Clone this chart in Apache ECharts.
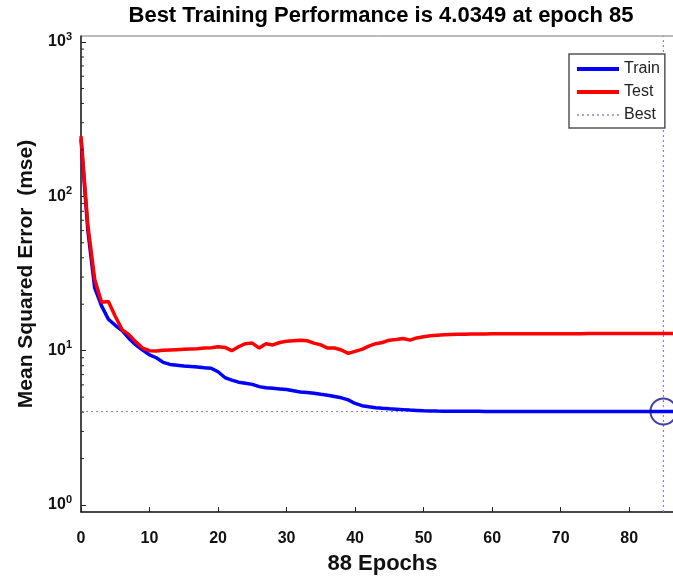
<!DOCTYPE html>
<html><head><meta charset="utf-8">
<script src="https://cdn.jsdelivr.net/npm/echarts@6/dist/echarts.min.js"></script>
<style>html,body{margin:0;padding:0;background:#fff}#c{width:673px;height:576px}</style>
</head><body><div id="c"></div>
<script>
const titleText = 'Best Training Performance is 4.0349 at epoch 85';
const xName = '88 Epochs';
const yName = 'Mean Squared Error  (mse)';
const seriesNames = ['Train', 'Test', 'Best'];
const bestEpoch = 85;
const bestValue = 4.0349;
const xTicks = [0, 10, 20, 30, 40, 50, 60, 70, 80];
const minorTickValues = [2,3,4,5,6,7,8,9,20,30,40,50,60,70,80,90,200,300,400,500,600,700,800,900];

const train = [
  235, 60, 25.5, 19.5, 16, 14.6, 13.5, 12, 10.9, 10.1,
  9.4, 9.0, 8.4, 8.15, 8.05, 7.95, 7.9, 7.85, 7.75, 7.7,
  7.3, 6.7, 6.45, 6.25, 6.15, 6.05, 5.85, 5.75, 5.7, 5.65,
  5.6, 5.5, 5.4, 5.35, 5.3, 5.22, 5.15, 5.05, 4.95, 4.8,
  4.55, 4.4, 4.33, 4.27, 4.23, 4.2, 4.18, 4.15, 4.12, 4.1,
  4.08, 4.07, 4.06, 4.055, 4.05, 4.048, 4.046, 4.045, 4.044, 4.043,
  4.042, 4.041, 4.041, 4.040, 4.040, 4.039, 4.039, 4.039, 4.038, 4.038,
  4.038, 4.037, 4.037, 4.037, 4.037, 4.036, 4.036, 4.036, 4.036, 4.036,
  4.035, 4.035, 4.035, 4.035, 4.035, 4.0349, 4.0349, 4.0349, 4.0349
];
const test = [
  246, 65, 29, 20.6, 20.8, 16.7, 13.7, 12.7, 11.4, 10.4,
  10.0, 9.95, 10.05, 10.1, 10.15, 10.2, 10.25, 10.3, 10.4, 10.45,
  10.6, 10.5, 10.0, 10.6, 11.1, 11.2, 10.4, 11.1, 10.9, 11.3,
  11.5, 11.6, 11.7, 11.6, 11.2, 10.9, 10.4, 10.4, 10.1, 9.6,
  9.9, 10.2, 10.7, 11.1, 11.3, 11.7, 11.8, 12.0, 11.7, 12.1,
  12.3, 12.5, 12.6, 12.7, 12.75, 12.8, 12.8, 12.82, 12.84, 12.85,
  12.86, 12.86, 12.87, 12.87, 12.87, 12.88, 12.88, 12.88, 12.88, 12.89,
  12.89, 12.89, 12.89, 12.89, 12.9, 12.9, 12.9, 12.9, 12.9, 12.9,
  12.9, 12.9, 12.9, 12.9, 12.9, 12.9, 12.9, 12.9, 12.9
];

const X_MIN = 0, X_MAX = 88, Y_MIN = 0.901, Y_MAX = 1094;
const F = "'Liberation Sans', Arial, sans-serif";
const BEST_COLOR = '#8282e6';
const chart = echarts.init(document.getElementById('c'), null, {renderer: 'canvas'});
const toPairs = arr => arr.map((v, i) => [i, v]);
// best guide lines: horizontal at best value, break, vertical at best epoch
const bestGuide = [[X_MIN, bestValue], [X_MAX, bestValue], [bestEpoch, '-'], [bestEpoch, Y_MIN], [bestEpoch, Y_MAX]];

const option = {
  animation: false,
  backgroundColor: '#fff',
  title: {
    text: titleText, left: 381, top: 5, textAlign: 'center', padding: 0,
    textStyle: {fontFamily: F, fontWeight: 'bold', fontSize: 22, color: '#000'}
  },
  grid: {left: 81, top: 36, width: 603, height: 476, outerBoundsMode: 'none', containLabel: false,
         show: true, borderColor: '#777', borderWidth: 1, backgroundColor: '#fff'},
  legend: {
    orient: 'vertical', left: 569, top: 54,
    data: [
      {name: seriesNames[0], lineStyle: {width: 4}},
      {name: seriesNames[1], lineStyle: {width: 4}},
      {name: seriesNames[2], lineStyle: {width: 1.5}}
    ],
    itemWidth: 42, itemHeight: 14, itemGap: 7, padding: [7, 5, 5, 6],
    borderColor: '#555', borderWidth: 1.5, backgroundColor: '#fff',
    itemStyle: {opacity: 0},
    textStyle: {fontFamily: F, fontSize: 16, color: '#222', lineHeight: 16}
  },
  xAxis: {
    type: 'value', min: X_MIN, max: X_MAX, interval: 10,
    axisLine: {onZero: false, lineStyle: {color: '#222', width: 1.5}},
    axisTick: {inside: true, length: 5, lineStyle: {color: '#222'}},
    splitLine: {show: false},
    axisLabel: {
      margin: 19, fontFamily: F, fontWeight: 'bold', fontSize: 16, color: '#111',
      formatter: v => xTicks.indexOf(v) >= 0 ? String(v) : ''
    },
    name: xName, nameLocation: 'middle', nameGap: 41,
    nameTextStyle: {fontFamily: F, fontWeight: 'bold', fontSize: 22, color: '#111'}
  },
  yAxis: {
    type: 'log', logBase: 10, min: Y_MIN, max: Y_MAX,
    axisLine: {onZero: false, lineStyle: {color: '#222', width: 1.5}},
    axisTick: {inside: true, length: 5, lineStyle: {color: '#222'}},
    splitLine: {show: false},
    axisLabel: {
      margin: 9, showMinLabel: false, showMaxLabel: false,
      formatter: v => {
        const l = Math.log10(v), e = Math.round(l);
        if (Math.abs(l - e) > 1e-6) return '';
        return '{b|10}{s|' + e + '}';
      },
      rich: {
        b: {fontFamily: F, fontWeight: 'bold', fontSize: 16, color: '#111', verticalAlign: 'bottom', lineHeight: 16},
        s: {fontFamily: F, fontWeight: 'bold', fontSize: 11, color: '#111', verticalAlign: 'bottom', lineHeight: 11, padding: [0, 0, 8, 0]}
      }
    },
    name: yName, nameLocation: 'middle', nameGap: 44,
    nameTextStyle: {fontFamily: F, fontWeight: 'bold', fontSize: 21, color: '#111'}
  },
  series: [
    {
      name: 'Best', type: 'line', data: bestGuide, showSymbol: false, symbol: 'none',
      connectNulls: false, silent: true,
      color: BEST_COLOR,
      lineStyle: {color: BEST_COLOR, width: 1.2, type: [2, 3]},
      itemStyle: {color: BEST_COLOR},
      z: 1
    },
    {
      name: 'Train', type: 'line', data: toPairs(train), symbol: 'none',
      lineStyle: {color: '#0000ff', width: 3.5}, itemStyle: {color: '#0000ff'}, z: 2
    },
    {
      name: 'Test', type: 'line', data: toPairs(test), symbol: 'none',
      lineStyle: {color: '#ff0000', width: 3.5}, itemStyle: {color: '#ff0000'}, z: 3
    },
    {
      name: 'BestPoint', type: 'scatter', data: [[bestEpoch, bestValue]],
      symbol: 'circle', symbolSize: 26,
      itemStyle: {color: 'rgba(0,0,0,0)', borderColor: '#14148a', borderWidth: 2}, z: 4
    },
    {
      name: 'minorTicks', type: 'custom', data: minorTickValues.map(v => [0, v]), silent: true, z: 5,
      renderItem: (params, api) => {
        const p = api.coord([0, api.value(1)]);
        return {type: 'line', shape: {x1: p[0], y1: p[1], x2: p[0] + 3, y2: p[1]}, style: {stroke: '#222', lineWidth: 1}};
      }
    }
  ]
};
chart.setOption(option);
</script>
</body></html>
